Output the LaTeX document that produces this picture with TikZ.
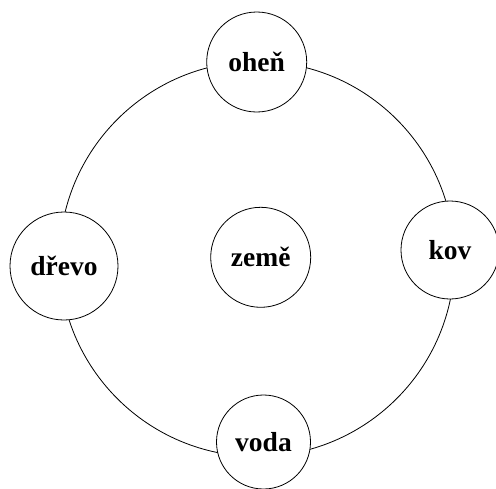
\documentclass[tikz,border=0pt]{standalone}
\usepackage{fontspec}
\setmainfont{Liberation Serif}
\begin{document}
\begin{tikzpicture}[x=1pt,y=-1pt,
  elem/.style={circle,draw,line width=0.8pt,fill=white,inner sep=0pt,
    font=\fontsize{27.5}{32}\selectfont\bfseries},
  ring/.style={line width=0.8pt}]
\useasboundingbox (0,0) rectangle (496,488);
\coordinate (c) at (257,259);
\draw[ring] (c) circle[radius=197.5pt];
\node[elem,minimum size=100pt] (ohen) at (256.7,62) {oheň};
\node[elem,minimum size=98pt] (kov) at (450,250) {kov};
\node[elem,minimum size=94pt] (voda) at (263.5,442) {voda};
\node[elem,minimum size=108pt] (drevo) at (64,266) {dřevo};
\node[elem,minimum size=100pt] (zeme) at (260.7,257.3) {země};
\end{tikzpicture}
\end{document}
